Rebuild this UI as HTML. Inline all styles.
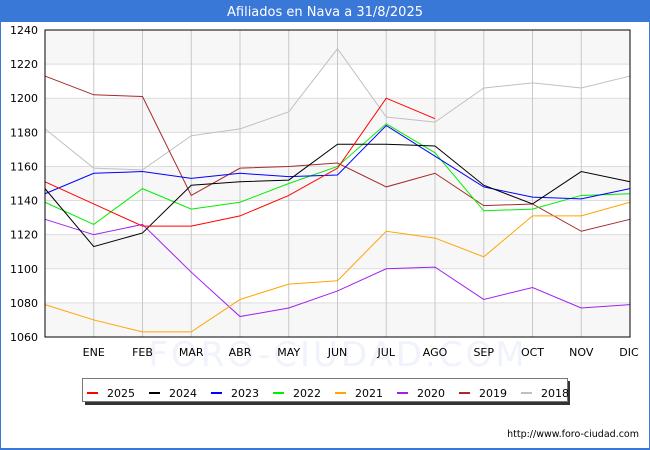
<!DOCTYPE html>
<html><head><meta charset="utf-8"><style>
body{margin:0;background:#fff;}
#wrap{position:relative;width:650px;height:450px;overflow:hidden;font-family:"DejaVu Sans","Liberation Sans",sans-serif;}
</style></head><body>
<div id="wrap">
<svg id="svg" width="650" height="450" xmlns="http://www.w3.org/2000/svg"></svg>
</div>
<script>
const months = ["", "ENE","FEB","MAR","ABR","MAY","JUN","JUL","AGO","SEP","OCT","NOV","DIC"];
const yTicks = [1060,1080,1100,1120,1140,1160,1180,1200,1220,1240];
const seriesNames = ["2025","2024","2023","2022","2021","2020","2019","2018"];
const seriesColors = ["#ff0000","#000000","#0000ff","#00ee00","#ffa500","#a020f0","#a52a2a","#c0c0c0"];
const s2025 = [1151,1138,1125,1125,1131,1143,1159,1200,1188];
const s2024 = [1147,1113,1121,1149,1151,1152,1173,1173,1172,1149,1138,1157,1151];
const s2023 = [1144,1156,1157,1153,1156,1154,1155,1184,1166,1148,1142,1141,1147];
const s2022 = [1139,1126,1147,1135,1139,1150,1160,1185,1168,1134,1135,1143,1144];
const s2021 = [1079,1070,1063,1063,1082,1091,1093,1122,1118,1107,1131,1131,1139];
const s2020 = [1129,1120,1126,1098,1072,1077,1087,1100,1101,1082,1089,1077,1079];
const s2019 = [1213,1202,1201,1143,1159,1160,1162,1148,1156,1137,1138,1122,1129];
const s2018 = [1182,1159,1158,1178,1182,1192,1229,1189,1186,1206,1209,1206,1213];
const allSeries = [s2025,s2024,s2023,s2022,s2021,s2020,s2019,s2018];

const svg = document.getElementById('svg');
const NS = "http://www.w3.org/2000/svg";
const L=45,R=630,T=30,B=337,YMIN=1060,YMAX=1240;
function xPos(i){return L+i*(R-L)/12;}
function yPos(v){return B-(v-YMIN)*(B-T)/(YMAX-YMIN);}
function mk(tag,attrs,parent){const e=document.createElementNS(NS,tag);for(const k in attrs)e.setAttribute(k,attrs[k]);(parent||svg).appendChild(e);return e;}

let e=mk('rect',{x:0.5,y:0.5,width:649,height:449,fill:'#fff',stroke:'#3a78d8','stroke-width':1});


e=mk('rect',{x:0,y:0,width:650,height:22,fill:'#3a78d8'});


e=mk('text',{x:325,y:16,'text-anchor':'middle',fill:'#fff','font-size':13});
e.textContent='Afiliados en Nava a 31/8/2025';


mk('rect',{x:0,y:448,width:650,height:2,fill:'#3a78d8'});

for(let i=0;i<yTicks.length-1;i++){
  if(i%2===0){
    e=mk('rect',{x:L,y:yPos(yTicks[i+1]),width:R-L,height:yPos(yTicks[i])-yPos(yTicks[i+1]),fill:'#f7f7f7'});
    
    
  }
}
e=mk('text',{x:338,y:366,'text-anchor':'middle',fill:'#f0f2fc','font-size':34,'letter-spacing':3});
e.textContent='FORO-CIUDAD.COM';


yTicks.forEach(t=>{
  e=mk('line',{x1:L,x2:R,y1:yPos(t),y2:yPos(t),stroke:'#dddddd','stroke-width':1});
  
  
  e=mk('text',{x:38,y:yPos(t)+4,'text-anchor':'end','font-size':11,fill:'#000'});
  e.textContent=t;
  
  
});
months.forEach((m,i)=>{
  if(i===0)return;
  e=mk('line',{x1:xPos(i),x2:xPos(i),y1:T,y2:B,stroke:'#c8c8c8','stroke-width':1});
  
  
  e=mk('text',{x:xPos(i)-(i===12?1:0),y:356,'text-anchor':'middle','font-size':11,fill:'#000'});
  e.textContent=m;
  
  
});
for(let s=allSeries.length-1;s>=0;s--){
  const pts=allSeries[s].map((v,i)=>xPos(i)+','+yPos(v)).join(' ');
  e=mk('polyline',{points:pts,fill:'none',stroke:seriesColors[s],'stroke-width':1});
  
  
}
e=mk('rect',{x:L,y:T,width:R-L,height:B-T,fill:'none',stroke:'#000','stroke-width':1});



mk('rect',{x:85,y:381,width:485,height:24,fill:'#333'});
e=mk('rect',{x:82.5,y:378.5,width:485,height:23,fill:'#fff',stroke:'#777'});


seriesNames.forEach((n,i)=>{
  const x0=87+i*62;
  const g=mk('g',{});
  
  
  mk('rect',{x:x0,y:392,width:11,height:2,fill:seriesColors[i]},g);
  const t=mk('text',{x:x0+20,y:397,'font-size':11,fill:'#000'},g);
  t.textContent=n;
});
e=mk('text',{x:639,y:437,'text-anchor':'end','font-size':9.5,fill:'#000'});
e.textContent='http://www.foro-ciudad.com';


</script>
</body></html>
